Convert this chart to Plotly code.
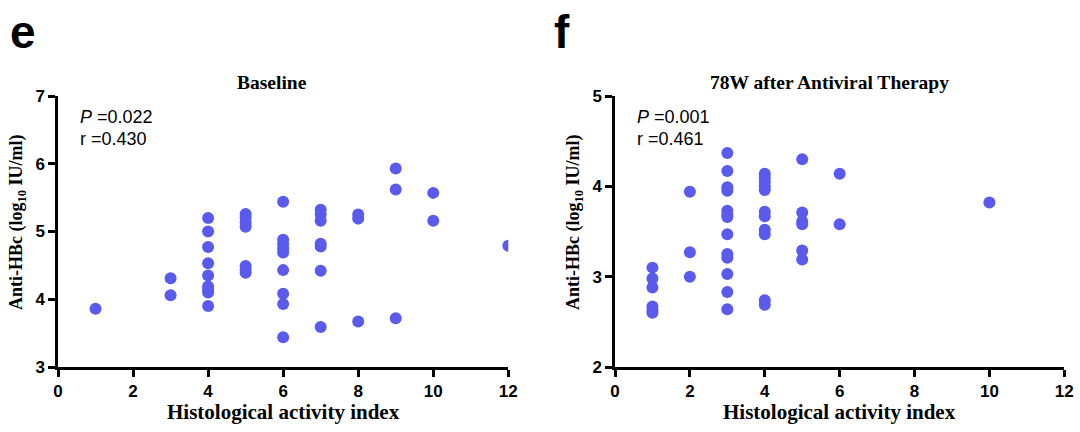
import plotly.graph_objects as go

# Panel e: Baseline
hai_base = [1, 3, 3,
            4, 4, 4, 4, 4, 4, 4, 4, 4,
            5, 5, 5, 5, 5, 5, 5,
            6, 6, 6, 6, 6, 6, 6, 6, 6,
            7, 7, 7, 7, 7, 7, 7,
            8, 8, 8,
            9, 9, 9,
            10, 10,
            12]
hbc_base = [3.86, 4.31, 4.06,
            5.20, 5.00, 4.77, 4.53, 4.35, 4.19, 4.14, 4.10, 3.90,
            5.26, 5.20, 5.13, 5.07, 4.49, 4.44, 4.39,
            5.44, 4.88, 4.81, 4.75, 4.69, 4.43, 4.08, 3.93, 3.44,
            5.32, 5.25, 5.16, 4.82, 4.78, 4.42, 3.59,
            5.25, 5.19, 3.67,
            5.93, 5.62, 3.72,
            5.57, 5.16,
            4.79]

# Panel f: 78W after antiviral therapy
hai_78w = [1, 1, 1, 1, 1, 1,
           2, 2, 2,
           3, 3, 3, 3, 3, 3, 3, 3, 3, 3, 3, 3, 3,
           4, 4, 4, 4, 4, 4, 4, 4, 4, 4, 4,
           5, 5, 5, 5, 5, 5,
           6, 6,
           10]
hbc_78w = [3.10, 2.98, 2.88, 2.67, 2.63, 2.60,
           3.94, 3.27, 3.00,
           4.37, 4.17, 3.99, 3.95, 3.73, 3.69, 3.66, 3.47, 3.25, 3.21, 3.03, 2.83, 2.64,
           4.14, 4.10, 4.05, 4.00, 3.96, 3.72, 3.67, 3.52, 3.47, 2.74, 2.69,
           4.30, 3.71, 3.61, 3.58, 3.29, 3.19,
           4.14, 3.58,
           3.82]

panel_titles = ["Baseline", "78W after Antiviral Therapy"]
panel_letters = ["e", "f"]
stats = [("0.022", "0.430"), ("0.001", "0.461")]
x_title = "Histological activity index"
y_title = "Anti-HBc (log<sub>10</sub> IU/ml)"

W, H = 1080, 432
color = "#5a5aec"

fig = go.Figure()
fig.add_trace(go.Scatter(x=hai_base, y=hbc_base, mode="markers", xaxis="x", yaxis="y",
                         marker=dict(size=12, color=color), showlegend=False))
fig.add_trace(go.Scatter(x=hai_78w, y=hbc_78w, mode="markers", xaxis="x2", yaxis="y2",
                         marker=dict(size=12, color=color), showlegend=False))

tickfont = dict(family="Liberation Sans, Arial", size=17, color="black", weight="bold")
ax_common = dict(showline=True, linecolor="black", linewidth=2.5, ticks="outside",
                 tickwidth=2.5, ticklen=7, tickcolor="black", showgrid=False,
                 zeroline=False, tickfont=tickfont, fixedrange=True, automargin=False)

ydom = [1 - 367 / H, 1 - 96 / H]
fig.update_layout(
    template="none",
    width=W, height=H, margin=dict(l=0, r=0, t=0, b=0, autoexpand=False),
    paper_bgcolor="white", plot_bgcolor="white",
    xaxis=dict(domain=[58 / W, 508.3 / W], range=[0, 12], dtick=2, anchor="y", **ax_common),
    yaxis=dict(domain=ydom, range=[3, 7], dtick=1, anchor="x", **ax_common),
    xaxis2=dict(domain=[615 / W, 1064.3 / W], range=[0, 12], dtick=2, anchor="y2", **ax_common),
    yaxis2=dict(domain=ydom, range=[2, 5], dtick=1, anchor="x2", **ax_common),
)

panels = [(58, 508.3, 272), (615, 1064.3, 829)]
letter_x = [8, 552]
for i, (x0, x1, tcx) in enumerate(panels):
    # panel letter
    fig.add_annotation(x=letter_x[i] / W, y=1 - 4 / H, xref="paper", yref="paper",
                       text=f"<b>{panel_letters[i]}</b>", showarrow=False,
                       xanchor="left", yanchor="top",
                       font=dict(family="Liberation Sans, Arial", size=46, color="black"))
    # title
    fig.add_annotation(x=tcx / W, y=1 - 82 / H, xref="paper", yref="paper",
                       text=f"<b>{panel_titles[i]}</b>", showarrow=False,
                       xanchor="center", yanchor="middle",
                       font=dict(family="Liberation Serif, Times New Roman", size=19.5, color="black"))
    # stats
    p, r = stats[i]
    fig.add_annotation(x=(x0 + 20) / W, y=1 - 117 / H, xref="paper", yref="paper",
                       text=f"<i>P</i> ={p}", showarrow=False, xanchor="left", yanchor="middle",
                       font=dict(family="Liberation Sans, Arial", size=18, color="black"))
    fig.add_annotation(x=(x0 + 20) / W, y=1 - 139 / H, xref="paper", yref="paper",
                       text=f"r ={r}", showarrow=False, xanchor="left", yanchor="middle",
                       font=dict(family="Liberation Sans, Arial", size=18, color="black"))
    # x title
    fig.add_annotation(x=(x0 + x1) / 2 / W, y=1 - 412 / H, xref="paper", yref="paper",
                       text=f"<b>{x_title}</b>", showarrow=False, xanchor="center", yanchor="middle",
                       font=dict(family="Liberation Serif, Times New Roman", size=21, color="black"))
    # y title
    fig.add_annotation(x=(x0 - 40) / W, y=1 - 222 / H, xref="paper", yref="paper",
                       text=f"<b>{y_title}</b>", showarrow=False, textangle=-90,
                       xanchor="center", yanchor="middle",
                       font=dict(family="Liberation Serif, Times New Roman", size=18, color="black"))

fig.write_html("out.html", config={"displayModeBar": False},
               post_script="document.body.style.margin='0';document.body.style.overflow='hidden';")
